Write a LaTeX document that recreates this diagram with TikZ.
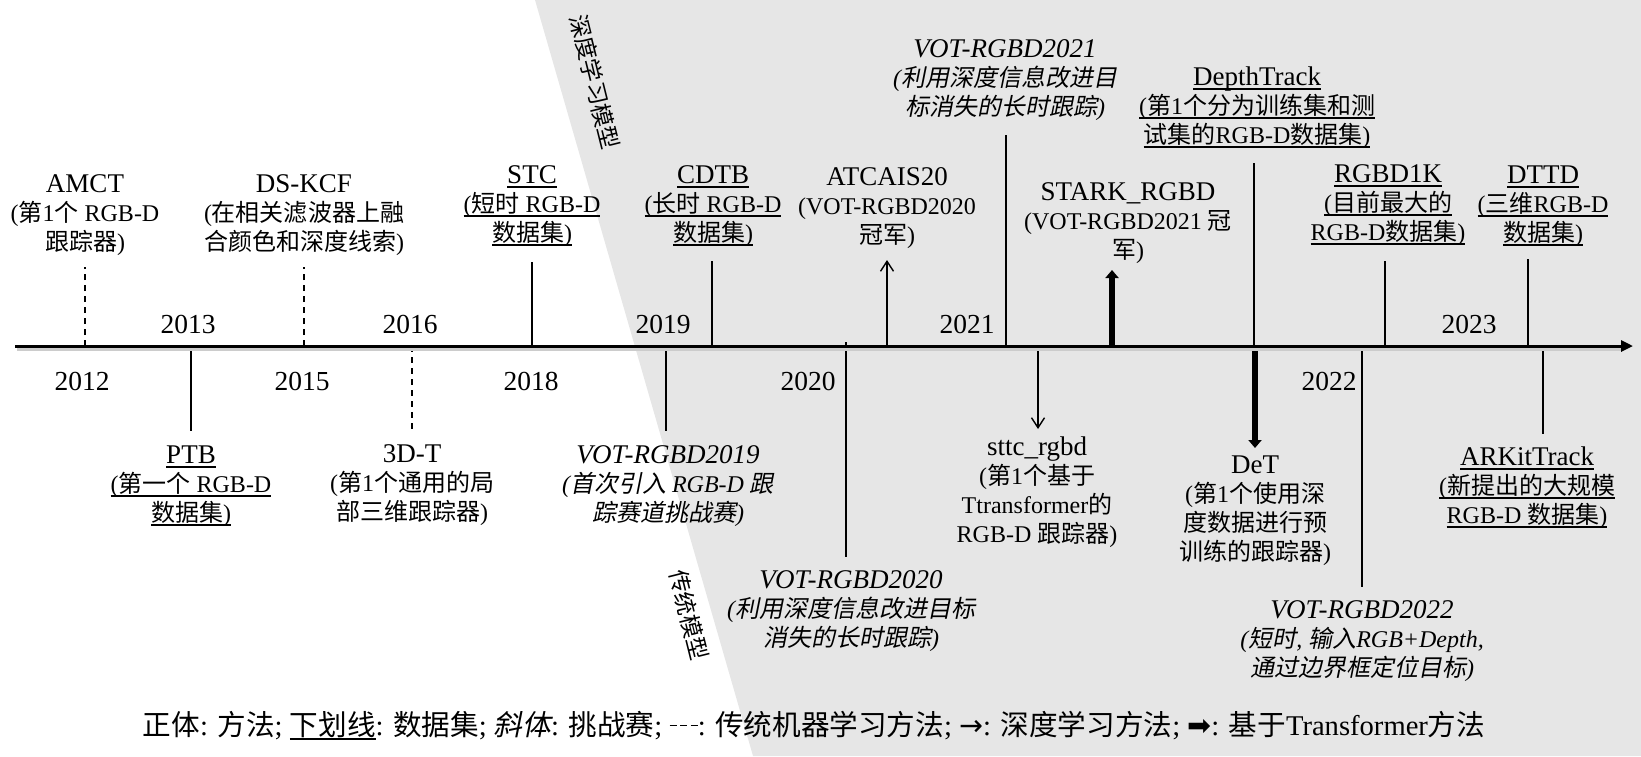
\documentclass[tikz,border=0pt]{standalone}
\usepackage{fontspec}
\setmainfont{Liberation Serif}
\newfontfamily\cjk{Noto Sans CJK SC}[ItalicFont={Noto Sans CJK SC},ItalicFeatures={FakeSlant=0.2}]
\newfontfamily\dejavu{DejaVu Sans}
\usetikzlibrary{arrows.meta}
\definecolor{bgg}{HTML}{E6E6E6}
\newcommand\zh[1]{{\cjk #1}}
\newcommand\descfont{\fontsize{12}{14.5}\selectfont}
\newcommand\ttlx[1]{{\fontsize{13.5}{14.5}\selectfont #1}}
\newcommand\ulin[1]{\leavevmode\setbox0\hbox{#1}\rlap{\rule[-2.3pt]{\wd0}{0.65pt}}\box0}
\newcommand\lbltab[1]{\begin{tabular}[t]{@{}c@{}}#1\end{tabular}}
\newcommand\dashsym{\raisebox{0.3em}{\rule{0.25em}{0.06em}\hspace{0.12em}\rule{0.25em}{0.06em}\hspace{0.12em}\rule{0.25em}{0.06em}}}
\begin{document}
\begin{tikzpicture}[x=0.5pt,y=-0.5pt,
  lbl/.style={anchor=base,inner sep=0pt,font=\descfont},
  ilbl/.style={anchor=base,inner sep=0pt,font=\descfont\itshape},
  yearlbl/.style={anchor=base,inner sep=0pt,font=\fontsize{13.75}{15}\selectfont},
  rotlbl/.style={inner sep=0pt,font=\fontsize{11.5}{13}\selectfont\cjk,rotate=-76},
  tickline/.style={line width=0.7pt},
  dtick/.style={line width=0.6pt,dash pattern=on 3.2pt off 2.3pt},
  thinarr/.style={line width=0.7pt,-{Straight Barb[length=5pt,width=6.5pt]}},
  thickarr/.style={line width=2.8pt,-{Triangle[length=4pt,width=6.5pt]}},
  axisline/.style={line width=1.5pt,-{Triangle[length=6pt,width=5.5pt]}},
  axisshadow/.style={line width=1.5pt,gray!40}]
\useasboundingbox (0,0) rectangle (1641,756);
% background region
\fill[bgg] (535,0) -- (753,756) -- (1641,756) -- (1641,0) -- cycle;
\node[rotlbl] (dlm) at (595,82) {深度学习模型};
\node[rotlbl] (ctm) at (689,615) {传统模型};
% axis coordinates
\coordinate (ax0) at (15,346);
\coordinate (ax1) at (1633,346);
\coordinate (ax0s) at (17,349.5);
\coordinate (ax1s) at (1622,349.5);
% tick coordinates
\foreach \n/\x/\t in {amct/85/267, dskcf/304/267, stc/532/262, cdtb/712/261, atc/887/260, vtw/1006/135, stark/1112/270, dtrack/1254/163, rgbdk/1385/261, dttd/1528/259,
  ptb/191/431, tdt/412/431, vnt/666/431, vtz/846/557, sttc/1038/429, det/1255/448, vtt/1362/587, arkit/1543/434}{
  \coordinate (a-\n) at (\x,346);
  \coordinate (e-\n) at (\x,\t);
}
\coordinate (a-vtz) at (846,342);
% ticks
\draw[dtick] (a-amct) -- (e-amct);
\draw[dtick] (a-dskcf) -- (e-dskcf);
\draw[tickline] (a-stc) -- (e-stc);
\draw[tickline] (a-cdtb) -- (e-cdtb);
\draw[thinarr] (a-atc) -- (e-atc);
\draw[tickline] (a-vtw) -- (e-vtw);
\draw[thickarr] (a-stark) -- (e-stark);
\draw[tickline] (a-dtrack) -- (e-dtrack);
\draw[tickline] (a-rgbdk) -- (e-rgbdk);
\draw[tickline] (a-dttd) -- (e-dttd);
\draw[tickline] (a-ptb) -- (e-ptb);
\draw[dtick] (a-tdt) -- (e-tdt);
\draw[tickline] (a-vnt) -- (e-vnt);
\draw[tickline] (a-vtz) -- (e-vtz);
\draw[thinarr] (a-sttc) -- (e-sttc);
\draw[thickarr] (a-det) -- (e-det);
\draw[tickline] (a-vtt) -- (e-vtt);
\draw[tickline] (a-arkit) -- (e-arkit);
% axis
\draw[axisshadow] (ax0s) -- (ax1s);
\draw[axisline] (ax0) -- (ax1);
% years
\node[yearlbl] (y13) at (188,333) {2013};
\node[yearlbl] (y16) at (410,333) {2016};
\node[yearlbl] (y19) at (663,333) {2019};
\node[yearlbl] (y21) at (967,333) {2021};
\node[yearlbl] (y23) at (1469,333) {2023};
\node[yearlbl] (y12) at (82,390) {2012};
\node[yearlbl] (y15) at (302,390) {2015};
\node[yearlbl] (y18) at (531,390) {2018};
\node[yearlbl] (y20) at (808,390) {2020};
\node[yearlbl] (y22) at (1329,390) {2022};
% top labels
\node[lbl] (l-amct) at (85,192) {\lbltab{\ttlx{AMCT}\\ (\zh{第}1\zh{个} RGB-D\\ \zh{跟踪器})}};
\node[lbl] (l-dskcf) at (304,192) {\lbltab{\ttlx{DS-KCF}\\ (\zh{在相关滤波器上融}\\ \zh{合颜色和深度线索})}};
\node[lbl] (l-stc) at (532,183) {\lbltab{\ttlx{\ulin{STC}}\\ \ulin{(\zh{短时} RGB-D}\\ \ulin{\zh{数据集})}}};
\node[lbl] (l-cdtb) at (713,183) {\lbltab{\ttlx{\ulin{CDTB}}\\ \ulin{(\zh{长时} RGB-D}\\ \ulin{\zh{数据集})}}};
\node[lbl] (l-atc) at (887,185) {\lbltab{\ttlx{ATCAIS20}\\ (VOT-RGBD2020\\ \zh{冠军})}};
\node[ilbl] (l-vtw) at (1005,57) {\lbltab{\ttlx{VOT-RGBD2021}\\ (\zh{利用深度信息改进目}\\ \zh{标消失的长时跟踪})}};
\node[lbl] (l-stark) at (1128,200) {\lbltab{\ttlx{STARK\_RGBD}\\ (VOT-RGBD2021 \zh{冠}\\ \zh{军})}};
\node[lbl] (l-dtrack) at (1257,85) {\lbltab{\ttlx{\ulin{DepthTrack}}\\ \ulin{(\zh{第}1\zh{个分为训练集和测}}\\ \ulin{\zh{试集的}RGB-D\zh{数据集})}}};
\node[lbl] (l-rgbdk) at (1388,182) {\lbltab{\ttlx{\ulin{RGBD1K}}\\ \ulin{(\zh{目前最大的}}\\ \ulin{RGB-D\zh{数据集})}}};
\node[lbl] (l-dttd) at (1543,183) {\lbltab{\ttlx{\ulin{DTTD}}\\ \ulin{(\zh{三维}RGB-D}\\ \ulin{\zh{数据集})}}};
% bottom labels
\node[lbl] (l-ptb) at (191,463) {\lbltab{\ttlx{\ulin{PTB}}\\ \ulin{(\zh{第一个} RGB-D}\\ \ulin{\zh{数据集})}}};
\node[lbl] (l-tdt) at (412,462) {\lbltab{\ttlx{3D-T}\\ (\zh{第}1\zh{个通用的局}\\ \zh{部三维跟踪器})}};
\node[ilbl] (l-vnt) at (668,463) {\lbltab{\ttlx{VOT-RGBD2019}\\ (\zh{首次引入} RGB-D \zh{跟}\\ \zh{踪赛道挑战赛})}};
\node[ilbl] (l-vtz) at (851,588) {\lbltab{\ttlx{VOT-RGBD2020}\\ (\zh{利用深度信息改进目标}\\ \zh{消失的长时跟踪})}};
\node[lbl] (l-sttc) at (1037,455) {\lbltab{\ttlx{sttc\_rgbd}\\ (\zh{第}1\zh{个基于}\\ Ttransformer\zh{的}\\ RGB-D \zh{跟踪器})}};
\node[lbl] (l-det) at (1255,473) {\lbltab{\ttlx{DeT}\\ (\zh{第}1\zh{个使用深}\\ \zh{度数据进行预}\\ \zh{训练的跟踪器})}};
\node[ilbl] (l-vtt) at (1362,618) {\lbltab{\ttlx{VOT-RGBD2022}\\ (\zh{短时}, \zh{输入}RGB+Depth,\\ \zh{通过边界框定位目标})}};
\node[lbl] (l-arkit) at (1527,465) {\lbltab{\ttlx{\ulin{ARKitTrack}}\\ \ulin{(\zh{新提出的大规模}}\\ \ulin{RGB-D \zh{数据集})}}};
% legend
\node[anchor=base,inner sep=0pt,font=\fontsize{14.3}{16}\selectfont] (legend) at (814,735)
  {\zh{正体}: \zh{方法}; \ulin{\zh{下划线}}: \zh{数据集}; {\itshape\zh{斜体}}: \zh{挑战赛}; \dashsym: \zh{传统机器学习方法}; {\dejavu →}: \zh{深度学习方法}; {\dejavu ➡}: \zh{基于}Transformer\zh{方法}};
\end{tikzpicture}
\end{document}
